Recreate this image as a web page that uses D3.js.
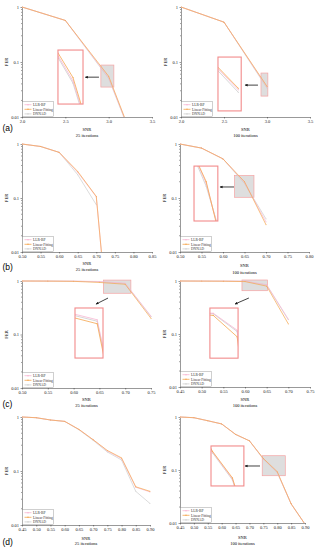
<!DOCTYPE html>
<html>
<head>
<meta charset="utf-8">
<script src="https://cdn.jsdelivr.net/npm/d3@7"></script>
<style>
body { margin: 0; background: #fff; }
svg { display: block; }
text { font-family: "Liberation Serif", "DejaVu Serif", serif; }
.axis path, .axis line { stroke: #333; stroke-width: 0.5; }
.axis text { font-size: 4.5px; fill: #222; }
</style>
</head>
<body>
<svg id="fig" width="318" height="550"></svg>
<script>
// series
var seriesNames = ['LLR-BP', 'Linear Fitting', 'DNNAD'];
var seriesColors = ['#f8b6d2', '#f5a64e', '#cdcdcd'];
var yTicks = [1, 0.1, 0.01];

// (a) 25 / 100 iterations
var ticksA = [2.0, 2.5, 3.0, 3.5];
var snrA1 = [2.0, 2.5, 3.0, 3.5];
var aL_llr = [1, 0.57, 0.052, 0.0005];
var aL_lin = [1, 0.57, 0.055, 0.0005];
var aL_dnn = [1, 0.57, 0.050, 0.0005];
var snrA2 = [2.0, 2.5, 3.0];
var aR_llr = [1, 0.53, 0.035];
var aR_lin = [1, 0.53, 0.036];
var aR_dnn = [1, 0.53, 0.0335];

// (b)
var ticksB1 = [0.50, 0.55, 0.60, 0.65, 0.70, 0.75, 0.80, 0.85];
var snrB1 = [0.50, 0.55, 0.60, 0.65, 0.70, 0.75];
var bL_llr = [1, 0.9, 0.70, 0.30, 0.105, 0.00002];
var bL_lin = [1, 0.9, 0.70, 0.31, 0.107, 0.00002];
var bL_dnn = [1, 0.9, 0.70, 0.27, 0.075];
var ticksB2 = [0.50, 0.55, 0.60, 0.65, 0.70, 0.75, 0.80];
var snrB2 = [0.50, 0.55, 0.60, 0.65, 0.70];
var bR_llr = [1, 0.84, 0.53, 0.195, 0.036];
var bR_lin = [1, 0.84, 0.53, 0.20, 0.032];
var bR_dnn = [1, 0.84, 0.53, 0.185, 0.041];

// (c)
var ticksC1 = [0.50, 0.55, 0.60, 0.65, 0.70, 0.75];
var snrC1 = [0.50, 0.55, 0.60, 0.65, 0.70, 0.75];
var cL_llr = [1, 0.998, 0.995, 0.98, 0.91, 0.22];
var cL_lin = [1, 0.995, 0.985, 0.94, 0.87, 0.20];
var cL_dnn = [1, 0.997, 0.99, 0.965, 0.895, 0.215];
var ticksC2 = [0.45, 0.50, 0.55, 0.60, 0.65, 0.70, 0.75];
var snrC2 = [0.45, 0.50, 0.55, 0.60, 0.65, 0.70];
var cR_llr = [1, 0.998, 0.997, 0.995, 0.85, 0.19];
var cR_lin = [1, 0.995, 0.99, 0.975, 0.80, 0.155];
var cR_dnn = [1, 0.997, 0.995, 0.99, 0.84, 0.185];

// (d)
var ticksD = [0.45, 0.50, 0.55, 0.60, 0.65, 0.70, 0.75, 0.80, 0.85, 0.90];
var snrD = [0.45, 0.50, 0.55, 0.60, 0.65, 0.70, 0.75, 0.80, 0.85, 0.90];
var dL_llr = [1, 0.97, 0.88, 0.83, 0.59, 0.38, 0.235, 0.17, 0.050, 0.041];
var dL_lin = [1, 0.97, 0.88, 0.83, 0.59, 0.38, 0.24, 0.175, 0.051, 0.042];
var dL_dnn = [1, 0.97, 0.88, 0.83, 0.58, 0.37, 0.225, 0.16, 0.042, 0.025];
var dR_llr = [1, 0.97, 0.85, 0.74, 0.47, 0.355, 0.163, 0.091, 0.023, 0.0095];
var dR_lin = [1, 0.97, 0.85, 0.74, 0.47, 0.355, 0.165, 0.093, 0.023, 0.0095];
var dR_dnn = [1, 0.97, 0.85, 0.74, 0.47, 0.355, 0.160, 0.089, 0.023, 0.0095];

// zoom windows [snr0, snr1, ferTop, ferBottom], inset frames and arrows in data units
var aL_zoom = [2.91, 3.06, 0.088, 0.035], aL_inset = [2.415, 2.704, 0.165, 0.0172], aL_arrow = [2.888, 0.053, 2.73, 0.053];
var aR_zoom = [2.93, 3.01, 0.063, 0.024], aR_inset = [2.43, 2.70, 0.123, 0.0129], aR_arrow = [2.895, 0.038, 2.745, 0.038];
var bR_zoom = [0.627, 0.672, 0.26, 0.103], bR_inset = [0.5326, 0.588, 0.39, 0.0375], bR_arrow = [0.6256, 0.16, 0.593, 0.16];
var cL_zoom = [0.658, 0.711, 1.04, 0.59], cL_inset = [0.6027, 0.657, 0.313, 0.0363], cL_arrow = [0.6667, 0.48, 0.6434, 0.37];
var cR_zoom = [0.593, 0.652, 1.044, 0.656], cR_inset = [0.519, 0.584, 0.309, 0.035], cR_arrow = [0.609, 0.478, 0.577, 0.368];
var dR_zoom = [0.746, 0.829, 0.186, 0.078], dR_inset = [0.5616, 0.680, 0.284, 0.05], dR_arrow = [0.738, 0.119, 0.684, 0.119];

var panels = [
    {snr: snrA1, fer: [aL_llr, aL_lin, aL_dnn], xt: ticksA, fmt: '.1f', box: [22, 152, 7, 117], snrY: 130.5, sub: '25 iterations', subY: 136.5, zoom: aL_zoom, inset: aL_inset, arrow: aL_arrow},
    {snr: snrA2, fer: [aR_llr, aR_lin, aR_dnn], xt: ticksA, fmt: '.1f', box: [181, 310, 7, 117], snrY: 130.5, sub: '100 iterations', subY: 137, zoom: aR_zoom, inset: aR_inset, arrow: aR_arrow},
    {snr: snrB1, fer: [bL_llr, bL_lin, bL_dnn], xt: ticksB1, fmt: '.2f', box: [22, 152, 144, 252], snrY: 264.5, sub: '25 iterations', subY: 270.5},
    {snr: snrB2, fer: [bR_llr, bR_lin, bR_dnn], xt: ticksB2, fmt: '.2f', box: [180, 309, 144, 252], snrY: 267, sub: '100 iterations', subY: 273.5, zoom: bR_zoom, inset: bR_inset, arrow: bR_arrow},
    {snr: snrC1, fer: [cL_llr, cL_lin, cL_dnn], xt: ticksC1, fmt: '.2f', box: [22, 151, 281, 388], snrY: 400.5, sub: '25 iterations', subY: 406.5, zoom: cL_zoom, inset: cL_inset, arrow: cL_arrow},
    {snr: snrC2, fer: [cR_llr, cR_lin, cR_dnn], xt: ticksC2, fmt: '.2f', box: [180, 310, 281, 387], snrY: 400.5, sub: '100 iterations', subY: 406.5, zoom: cR_zoom, inset: cR_inset, arrow: cR_arrow},
    {snr: snrD, fer: [dL_llr, dL_lin, dL_dnn], xt: ticksD, fmt: '.2f', box: [22, 150, 417, 525], snrY: 539.5, sub: '25 iterations', subY: 545},
    {snr: snrD, fer: [dR_llr, dR_lin, dR_dnn], xt: ticksD, fmt: '.2f', box: [180, 305, 417, 523], snrY: 538.5, sub: '100 iterations', subY: 544.5, zoom: dR_zoom, inset: dR_inset, arrow: dR_arrow}
];
var rowLabels = ['(a)', '(b)', '(c)', '(d)'];
var rowLabelY = [131, 269.5, 406.5, 545];

var svg = d3.select('#fig');
var defs = svg.append('defs');
defs.append('marker')
    .attr('id', 'arrowHead')
    .attr('viewBox', '0 0 10 10')
    .attr('refX', 8).attr('refY', 5)
    .attr('markerWidth', 4).attr('markerHeight', 4)
    .attr('orient', 'auto')
    .append('path')
    .attr('d', 'M0,1L9,5L0,9Z')
    .attr('fill', '#111');

// draw order: gray, pink, orange on top
var order = [2, 0, 1];

function drawSeries(g, p, x, y, width) {
    order.forEach(function (s) {
        var pts = p.fer[s].map((v, i) => [p.snr[i], v]);
        g.append('path')
            .datum(pts)
            .attr('fill', 'none')
            .attr('stroke', seriesColors[s])
            .attr('stroke-width', width)
            .attr('d', d3.line().x((d) => x(d[0])).y((d) => y(d[1])));
        g.selectAll('.pt' + s)
            .data(pts)
            .enter()
            .append('circle')
            .attr('cx', (d) => x(d[0]))
            .attr('cy', (d) => y(d[1]))
            .attr('r', width * 0.7)
            .attr('fill', seriesColors[s]);
    });
}

function drawPanel(p, i) {
    var b = p.box;
    var g = svg.append('g');
    var x = d3.scaleLinear().domain([p.xt[0], p.xt[p.xt.length - 1]]).range([b[0], b[1]]);
    var y = d3.scaleLog().domain([1, 0.01]).range([b[2], b[3]]);

    defs.append('clipPath').attr('id', 'clip' + i)
        .append('rect')
        .attr('x', b[0]).attr('y', b[2] - 3)
        .attr('width', b[1] - b[0] + 2).attr('height', b[3] - b[2] + 3);

    // axes
    g.append('g').attr('class', 'axis')
        .attr('transform', `translate(0,${b[3]})`)
        .call(d3.axisBottom(x).tickValues(p.xt).tickFormat(d3.format(p.fmt)).tickSize(1.5).tickPadding(1.8).tickSizeOuter(0));

    var minor = y.ticks().filter((v) => yTicks.indexOf(v) < 0);
    var ya = g.append('g').attr('class', 'axis')
        .attr('transform', `translate(${b[0]},0)`);
    ya.call(d3.axisLeft(y).tickValues(yTicks).tickFormat((d) => String(d)).tickSize(1.5).tickPadding(1.5).tickSizeOuter(0));
    ya.selectAll('.minor')
        .data(minor)
        .enter()
        .append('line')
        .attr('class', 'minor')
        .attr('x1', 0).attr('x2', -0.9)
        .attr('y1', (d) => y(d)).attr('y2', (d) => y(d))
        .attr('stroke', '#333').attr('stroke-width', 0.4);

    // axis titles
    g.append('text')
        .attr('transform', `translate(${b[0] - 15.5},${(b[2] + b[3]) / 2})rotate(-90)`)
        .attr('text-anchor', 'middle')
        .attr('dy', '0.35em')
        .style('font-size', '4.5px')
        .text('FER');
    g.append('text')
        .attr('x', (b[0] + b[1]) / 2).attr('y', p.snrY)
        .attr('text-anchor', 'middle')
        .style('font-size', '4.5px')
        .text('SNR');
    g.append('text')
        .attr('x', (b[0] + b[1]) / 2).attr('y', p.subY)
        .attr('text-anchor', 'middle')
        .style('font-size', '4.5px')
        .text(p.sub);

    // zoom window
    if (p.zoom) {
        var z = p.zoom;
        g.append('rect')
            .attr('x', x(z[0])).attr('y', y(z[2]))
            .attr('width', x(z[1]) - x(z[0])).attr('height', y(z[3]) - y(z[2]))
            .attr('fill', '#dedede')
            .attr('stroke', '#f4a3a3')
            .attr('stroke-width', 0.7);
    }

    var lines = g.append('g').attr('clip-path', `url(#clip${i})`);
    drawSeries(lines, p, x, y, 0.7);

    if (p.zoom) {
        var z = p.zoom, r = p.inset;
        var xi = d3.scaleLinear().domain([z[0], z[1]]).range([x(r[0]), x(r[1])]);
        var yi = d3.scaleLog().domain([z[2], z[3]]).range([y(r[2]), y(r[3])]);
        defs.append('clipPath').attr('id', 'iclip' + i)
            .append('rect')
            .attr('x', x(r[0])).attr('y', y(r[2]))
            .attr('width', x(r[1]) - x(r[0])).attr('height', y(r[3]) - y(r[2]));
        g.append('rect')
            .attr('x', x(r[0])).attr('y', y(r[2]))
            .attr('width', x(r[1]) - x(r[0])).attr('height', y(r[3]) - y(r[2]))
            .attr('fill', '#fff');
        var ig = g.append('g').attr('clip-path', `url(#iclip${i})`);
        drawSeries(ig, p, xi, yi, 0.8);
        g.append('rect')
            .attr('x', x(r[0])).attr('y', y(r[2]))
            .attr('width', x(r[1]) - x(r[0])).attr('height', y(r[3]) - y(r[2]))
            .attr('fill', 'none')
            .attr('stroke', '#f28b8b')
            .attr('stroke-width', 1.1);

        var a = p.arrow;
        g.append('line')
            .attr('x1', x(a[0])).attr('y1', y(a[1]))
            .attr('x2', x(a[2])).attr('y2', y(a[3]))
            .attr('stroke', '#111')
            .attr('stroke-width', 0.8)
            .attr('marker-end', 'url(#arrowHead)');
    }

    // legend
    var lg = g.append('g').attr('transform', `translate(${b[0] + 0.5},${b[3] - 15.5})`);
    lg.append('rect')
        .attr('width', 31).attr('height', 15)
        .attr('fill', '#fff')
        .attr('stroke', '#888')
        .attr('stroke-width', 0.4);
    seriesNames.forEach(function (name, s) {
        var ly = 3.2 + s * 4.6;
        lg.append('line')
            .attr('x1', 2).attr('x2', 9)
            .attr('y1', ly).attr('y2', ly)
            .attr('stroke', seriesColors[s])
            .attr('stroke-width', 0.8);
        lg.append('circle')
            .attr('cx', 5.5).attr('cy', ly).attr('r', 0.7)
            .attr('fill', seriesColors[s]);
        lg.append('text')
            .attr('x', 10.5).attr('y', ly)
            .attr('dy', '0.35em')
            .style('font-size', '3.6px')
            .attr('fill', '#333')
            .text(name);
    });
}

panels.forEach(drawPanel);

svg.selectAll('.rowlabel')
    .data(rowLabels)
    .enter()
    .append('text')
    .attr('class', 'rowlabel')
    .attr('x', 2.5)
    .attr('y', (d, i) => rowLabelY[i])
    .style('font-family', '"Liberation Sans", Arial, sans-serif')
    .style('font-size', '8.5px')
    .text((d) => d);
</script>
</body>
</html>
